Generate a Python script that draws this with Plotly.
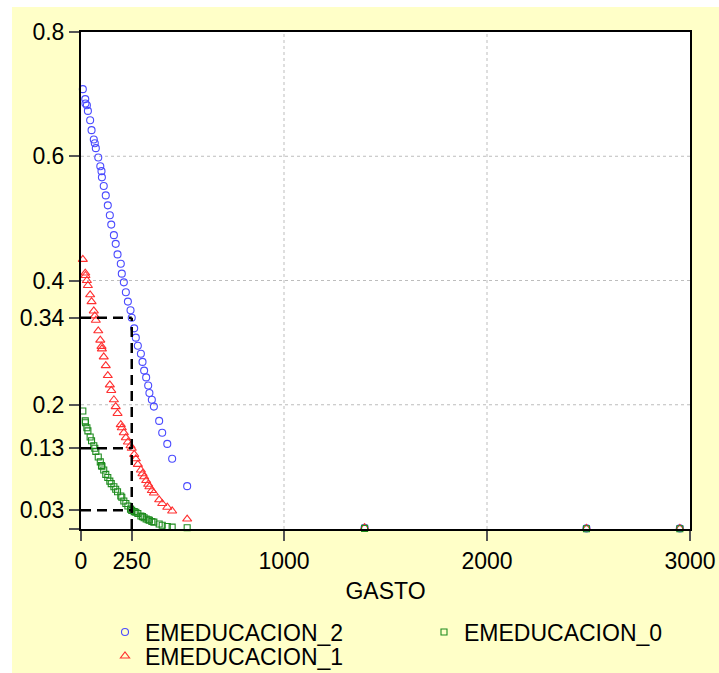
import plotly.graph_objects as go

# Predicted probabilities by spending level (GASTO)
GASTO = [9, 21, 22, 29, 34, 45, 52, 63, 68, 73, 85, 95, 101, 103, 112, 122,
         132, 142, 149, 162, 171, 180, 196, 201, 211, 221, 231, 244, 250, 262,
         270, 280, 295, 303, 311, 321, 331, 337, 349, 359, 385, 400, 425, 449,
         523, 1397, 2490, 2950]

EMEDUCACION_2 = [0.708, 0.692, 0.685, 0.682, 0.673, 0.658, 0.642, 0.627, 0.621,
                 0.613, 0.598, 0.584, 0.576, 0.566, 0.552, 0.537, 0.521, 0.505,
                 0.490, 0.473, 0.459, 0.442, 0.427, 0.411, 0.397, 0.381, 0.366,
                 0.352, 0.340, 0.323, 0.308, 0.295, 0.282, 0.269, 0.255, 0.244,
                 0.231, 0.219, 0.208, 0.197, 0.174, 0.155, 0.137, 0.113, 0.069,
                 0.002, 0.001, 0.001]

EMEDUCACION_1 = [0.434, 0.412, 0.408, 0.400, 0.392, 0.377, 0.366, 0.351, 0.343,
                 0.336, 0.319, 0.304, 0.294, 0.290, 0.277, 0.263, 0.247, 0.232,
                 0.223, 0.208, 0.197, 0.186, 0.168, 0.163, 0.155, 0.147, 0.140,
                 0.134, 0.130, 0.120, 0.113, 0.104, 0.095, 0.089, 0.084, 0.078,
                 0.072, 0.068, 0.062, 0.058, 0.047, 0.041, 0.035, 0.029, 0.016,
                 0.002, 0.001, 0.001]

EMEDUCACION_0 = [0.190, 0.174, 0.171, 0.163, 0.158, 0.148, 0.142, 0.134, 0.130,
                 0.125, 0.116, 0.108, 0.102, 0.101, 0.095, 0.088, 0.083, 0.077,
                 0.073, 0.068, 0.064, 0.060, 0.053, 0.051, 0.045, 0.041, 0.037,
                 0.032, 0.030, 0.028, 0.027, 0.025, 0.021, 0.020, 0.018, 0.016,
                 0.015, 0.014, 0.012, 0.011, 0.008, 0.006, 0.004, 0.003, 0.002,
                 0.001, 0.0005, 0.0005]

# Reference spending level and the probabilities read at it
GASTO_REF = 250
PROB_REF = [0.34, 0.13, 0.03]

X_TICKS = [0, 250, 1000, 2000, 3000]
X_TICK_TEXT = ["0", "250", "1000", "2000", "3000"]
Y_TICKS = [0, 0.03, 0.13, 0.2, 0.34, 0.4, 0.6, 0.8]
Y_TICK_TEXT = ["", "0.03", "0.13", "0.2", "0.34", "0.4", "0.6", "0.8"]
X_GRID = [1000, 2000]
Y_GRID = [0.2, 0.4, 0.6]

FONT = "Liberation Sans, Arial, sans-serif"
FSIZE = 23
PANEL = "#FFFFC8"
W, H = 719, 673

# name, values, symbol, colour, size, legend id, legend position (px)
series = [
    ("EMEDUCACION_2", EMEDUCACION_2, "circle-open", "#4B4BFF", 7, "legend", (105, 632)),
    ("EMEDUCACION_1", EMEDUCACION_1, "triangle-up-open", "#FF3030", 8, "legend2", (105, 656)),
    ("EMEDUCACION_0", EMEDUCACION_0, "square-open", "#1E8C1E", 6, "legend3", (424, 632)),
]

fig = go.Figure()
legends = {}
for name, values, symbol, color, size, leg, (lx, ly) in series:
    fig.add_trace(go.Scatter(
        x=GASTO, y=values, mode="markers", name=name,
        marker=dict(symbol=symbol, size=size, color=color,
                    line=dict(width=1.1, color=color)),
        cliponaxis=False, legend=leg,
    ))
    legends[leg] = dict(
        xref="container", yref="container",
        x=lx / W, xanchor="left", y=1 - ly / H, yanchor="middle",
        bgcolor="rgba(0,0,0,0)", borderwidth=0,
        font=dict(family=FONT, size=FSIZE, color="black"),
    )

shapes = []
# dotted grid
for gx in X_GRID:
    shapes.append(dict(type="line", xref="x", yref="y", x0=gx, x1=gx, y0=0, y1=0.8,
                       line=dict(color="#BDBDBD", width=1, dash="dot"), layer="below"))
for gy in Y_GRID:
    shapes.append(dict(type="line", xref="x", yref="y", x0=0, x1=3000, y0=gy, y1=gy,
                       line=dict(color="#BDBDBD", width=1, dash="dot"), layer="below"))
# dashed guides at the reference spending level
shapes.append(dict(type="line", xref="x", yref="y", x0=GASTO_REF, x1=GASTO_REF,
                   y0=0, y1=max(PROB_REF),
                   line=dict(color="black", width=2.5, dash="10px,6px"), layer="above"))
for p in PROB_REF:
    shapes.append(dict(type="line", xref="x", yref="y", x0=0, x1=GASTO_REF, y0=p, y1=p,
                       line=dict(color="black", width=2.5, dash="10px,6px"), layer="above"))
# white page border on top and left of the panel
shapes.append(dict(type="rect", xref="paper", yref="paper", x0=-0.3, x1=1.3,
                   y0=1.0503, y1=1.3, fillcolor="white", line=dict(width=0), layer="above"))
shapes.append(dict(type="rect", xref="paper", yref="paper", x0=-0.3, x1=-0.1133,
                   y0=-0.5, y1=1.3, fillcolor="white", line=dict(width=0), layer="above"))

axis_common = dict(
    showline=True, mirror=True, linecolor="black", linewidth=2,
    ticks="outside", ticklen=10, tickwidth=1.5, tickcolor="#555555",
    showgrid=False, zeroline=False,
    tickfont=dict(family=FONT, size=FSIZE, color="black"),
)

fig.update_layout(
    width=W, height=H,
    margin=dict(l=81, r=29, t=32, b=144, autoexpand=False),
    paper_bgcolor=PANEL, plot_bgcolor="white",
    font=dict(family=FONT, size=FSIZE, color="black"),
    xaxis=dict(range=[0, 3000], tickvals=X_TICKS, ticktext=X_TICK_TEXT, tickangle=0,
               title=dict(text="GASTO", standoff=10,
                          font=dict(family=FONT, size=FSIZE, color="black")),
               **axis_common),
    yaxis=dict(range=[0, 0.8], tickvals=Y_TICKS, ticktext=Y_TICK_TEXT, **axis_common),
    shapes=shapes,
    showlegend=True,
    **legends,
)

fig.write_html("out.html")
